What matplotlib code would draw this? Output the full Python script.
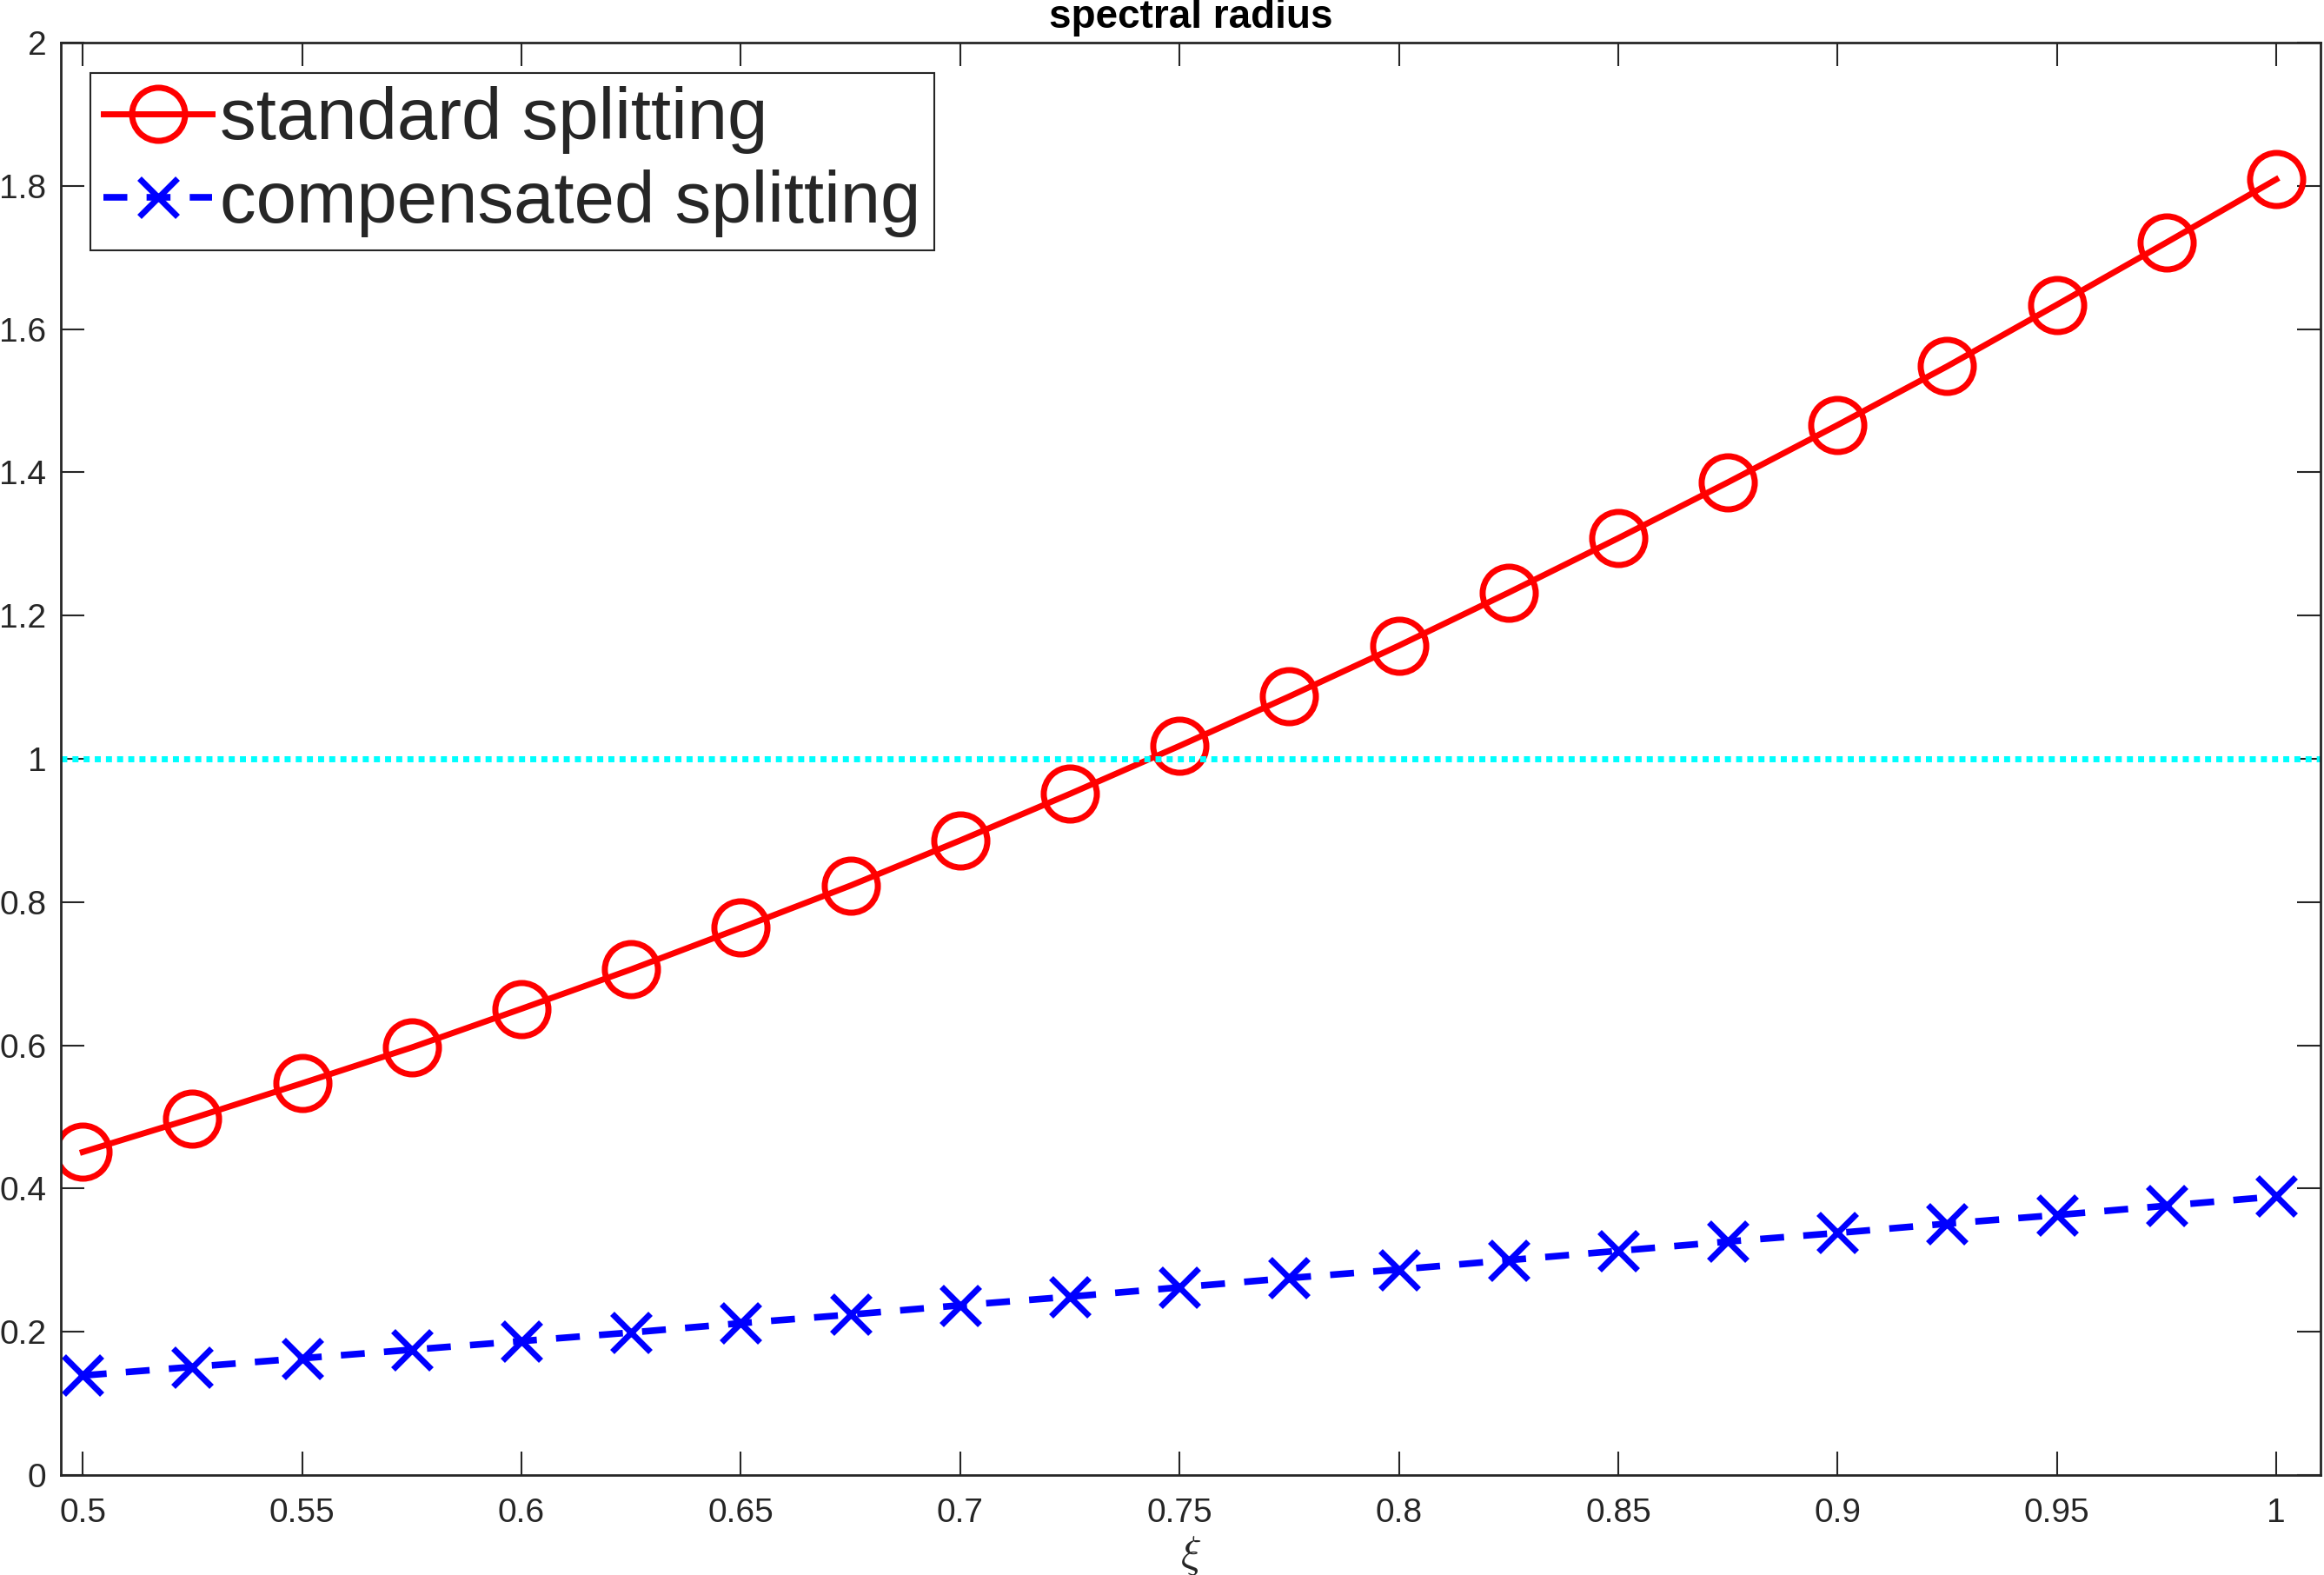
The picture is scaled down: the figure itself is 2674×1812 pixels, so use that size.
import numpy as np
import matplotlib
matplotlib.use('Agg')
import matplotlib.pyplot as plt

plt.rcParams['font.family'] = ['Liberation Sans', 'DejaVu Sans']
plt.rcParams['mathtext.fontset'] = 'cm'

# xi values and spectral radius of the two splittings
xi = [0.5, 0.525, 0.55, 0.575, 0.6, 0.625, 0.65, 0.675, 0.7, 0.725, 0.75,
      0.775, 0.8, 0.825, 0.85, 0.875, 0.9, 0.925, 0.95, 0.975, 1.0]
standard = [0.451, 0.498, 0.547, 0.597, 0.651, 0.706, 0.764, 0.823, 0.886, 0.951, 1.018,
            1.087, 1.158, 1.232, 1.308, 1.386, 1.466, 1.548, 1.634, 1.721, 1.809]
compensated = [0.139, 0.151, 0.163, 0.175, 0.187, 0.199, 0.212, 0.224, 0.237, 0.249, 0.262,
               0.275, 0.287, 0.300, 0.313, 0.326, 0.338, 0.351, 0.363, 0.376, 0.389]
labels = ['standard splitting', 'compensated splitting']
xticks = [0.5, 0.55, 0.6, 0.65, 0.7, 0.75, 0.8, 0.85, 0.9, 0.95, 1.0]
xticklabels = ['0.5', '0.55', '0.6', '0.65', '0.7', '0.75', '0.8', '0.85', '0.9', '0.95', '1']
yticks = [0, 0.2, 0.4, 0.6, 0.8, 1.0, 1.2, 1.4, 1.6, 1.8, 2.0]
yticklabels = ['0', '0.2', '0.4', '0.6', '0.8', '1', '1.2', '1.4', '1.6', '1.8', '2']
threshold = 1.0

W, H = 2674, 1812
fig = plt.figure(figsize=(W / 100, H / 100), dpi=100)
ax = fig.add_axes([70 / W, 1 - 1697 / H, 2600 / W, 1648 / H])

ax.plot(xi, standard, '-o', color='red', lw=5, markersize=44, mew=5,
        markerfacecolor='none', label=labels[0])
ax.plot(xi, compensated, 'x', color='blue', lw=5.5, markersize=31, mew=5,
        linestyle=(0, (3.6, 2.9)), label=labels[1])
ax.axhline(threshold, color=(0, 1, 1), lw=5, linestyle=(0, (1, 0.85)))

ax.set_xlim(0.495, 1.0101)
ax.set_ylim(0, 2)
ax.set_xticks(xticks)
ax.set_xticklabels(xticklabels)
ax.set_yticks(yticks)
ax.set_yticklabels(yticklabels)

dark = '#262626'
ax.tick_params(direction='in', length=19.5, width=1.5, colors=dark,
               labelsize=28, top=True, right=True)
ax.tick_params(axis='x', pad=19)
ax.tick_params(axis='y', pad=12)
for s in ax.spines.values():
    s.set_linewidth(2)
    s.set_color(dark)

ax.set_title('spectral radius', fontsize=33, fontweight='bold', color='black', pad=12)
ax.set_xlabel(r'$\xi$', fontsize=36, color=dark, labelpad=4)

leg = ax.legend(loc='upper left', bbox_to_anchor=(104 / W, 1 - 84 / H),
                bbox_transform=fig.transFigure, borderaxespad=0,
                fontsize=60, handlelength=1.5, handletextpad=0.11,
                borderpad=0.18, labelspacing=0.22, fancybox=False,
                framealpha=1, edgecolor=dark)
leg.get_frame().set_linewidth(1.5)
for t in leg.get_texts():
    t.set_color(dark)

fig.savefig('out.png', dpi=100)
